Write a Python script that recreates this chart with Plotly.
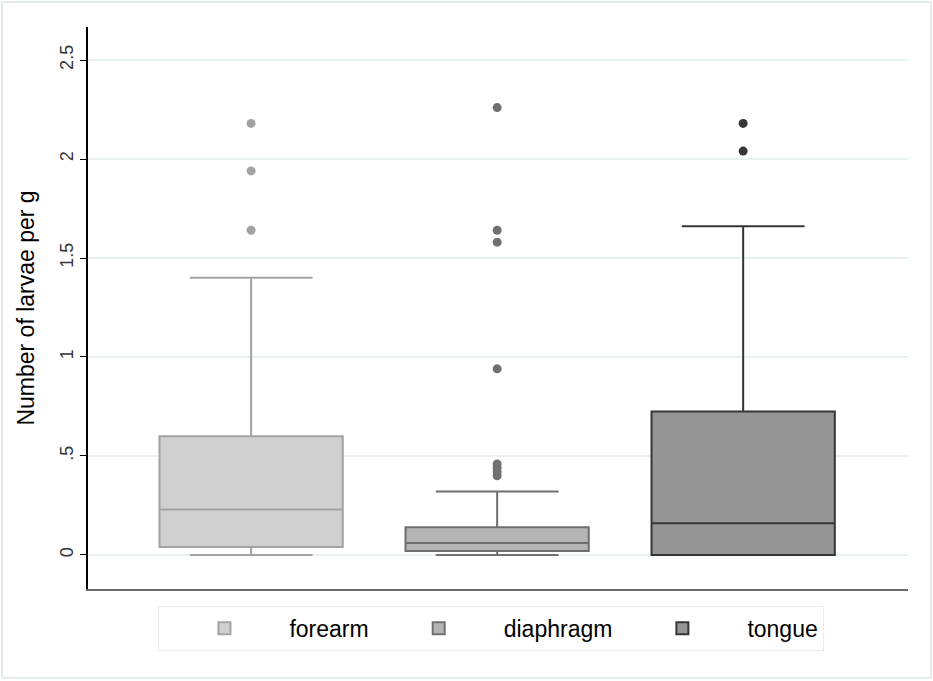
import plotly.graph_objects as go

# box statistics (number of larvae per g)
groups = ['forearm', 'diaphragm', 'tongue']
pos = [0, 1, 2]
q1 = [0.04, 0.02, 0.0]
median = [0.23, 0.06, 0.16]
q3 = [0.60, 0.14, 0.725]
lowerfence = [0.0, 0.0, 0.0]
upperfence = [1.40, 0.32, 1.66]

# outside values
outliers = [
    [2.18, 1.94, 1.64],
    [2.26, 1.64, 1.58, 0.94, 0.46, 0.44, 0.42, 0.40],
    [2.18, 2.04],
]

fills = ['#d0d0d0', '#b4b4b4', '#959595']
lines = ['#a2a2a2', '#707070', '#363636']

yticks = [0, 0.5, 1, 1.5, 2, 2.5]
ytick_text = ['0', '.5', '1', '1.5', '2', '2.5']

fig = go.Figure()
for i, g in enumerate(groups):
    fig.add_trace(go.Box(
        x=[pos[i]], q1=[q1[i]], median=[median[i]], q3=[q3[i]],
        lowerfence=[lowerfence[i]], upperfence=[upperfence[i]],
        name=g, boxpoints=False, width=0.745, whiskerwidth=0.67,
        fillcolor=fills[i], line=dict(color=lines[i], width=2),
        hoverinfo='skip',
    ))
for i, g in enumerate(groups):
    fig.add_trace(go.Scatter(
        x=[pos[i]] * len(outliers[i]), y=outliers[i],
        mode='markers', showlegend=False,
        marker=dict(color=lines[i], size=9),
    ))

# light frame around the whole graph
fig.add_shape(type='rect', xref='paper', yref='paper',
              x0=-0.1049, x1=1.028, y0=-0.158, y1=1.0445,
              line=dict(color='#e4ecee', width=2), layer='below')

fig.update_layout(
    width=933, height=681,
    margin=dict(l=88, r=25, t=27, b=92),
    paper_bgcolor='white', plot_bgcolor='white',
    font=dict(family='Liberation Sans, Arial, sans-serif', color='#000000'),
    boxmode='overlay',
    legend=dict(
        orientation='h', x=0.492, xanchor='center', y=-0.03, yanchor='top',
        font=dict(size=23), bordercolor='#ececec', borderwidth=1,
        itemwidth=120, traceorder='normal',
    ),
)
fig.update_xaxes(
    range=[-0.663, 2.67], showticklabels=False, ticks='', showgrid=False,
    zeroline=False, showline=True, linecolor='#6a6a6a', linewidth=2,
)
fig.update_yaxes(
    range=[-0.172, 2.667], tickvals=yticks, ticktext=ytick_text,
    tickangle=-90, tickfont=dict(size=18, color='#333333'), ticks='outside',
    ticklen=6, tickcolor='#000000', showgrid=True, gridcolor='#e8f0f1',
    gridwidth=2, zeroline=False, showline=True, linecolor='#000000',
    linewidth=1.5,
    title=dict(text='Number of larvae per g', font=dict(size=23), standoff=16),
)

# page has a default 8px body margin; remove it so the figure sits at 0,0
fig.write_html('out.html', config={'displayModeBar': False},
               post_script="document.body.style.margin='0px';")
